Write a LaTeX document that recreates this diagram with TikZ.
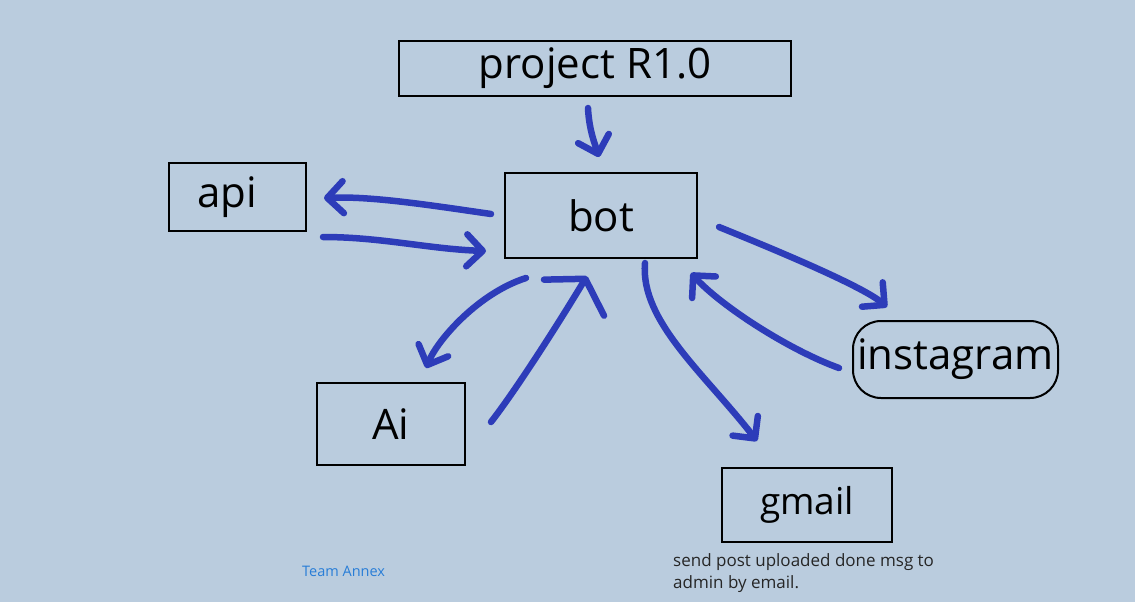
\documentclass[tikz,border=0pt]{standalone}
\usepackage{fontspec}
\setmainfont{Open Sans}
\usetikzlibrary{arrows.meta}
\definecolor{bgblue}{RGB}{186,204,222}
\definecolor{penblue}{RGB}{45,60,185}
\definecolor{teamblue}{RGB}{40,125,215}

\begin{document}
\begin{tikzpicture}[x=1pt, y=-1pt,
  box/.style={draw=black, line width=2pt, inner sep=0pt, font=\fontsize{42}{50}\selectfont},
  pen/.style={penblue, line width=6.5pt, line cap=round, line join=round,
    -{Straight Barb[round, length=16pt, width=32pt]}},
  note/.style={inner sep=0pt, align=left}]
  \fill[bgblue] (0,0) rectangle (1135,602);
  \useasboundingbox (0,0) rectangle (1135,602);

  % boxes
  \node[box, minimum width=392pt, minimum height=55pt] (proj) at (595,68.5) {project R1.0};
  \node[box, minimum width=192pt, minimum height=85pt] (bot) at (601,215.5) {bot};
  \node[box, minimum width=137pt, minimum height=68pt] (api) at (237.5,197) {\hspace*{-20pt}api};
  \node[box, minimum width=148pt, minimum height=82pt] (Ai) at (391,424) {Ai};
  \node[box, minimum width=170pt, minimum height=74pt, font=\fontsize{37}{44}\selectfont] (gmail) at (807,505) {gmail};
  \node[box, rounded corners=28pt, minimum width=205pt, minimum height=77pt] (insta) at (955.5,359.5) {instagram};

  % notes
  \node[note, anchor=base west, font=\fontsize{17}{22}\selectfont, text=black!85] (msg) at (673,588)
    {send post uploaded done msg to\\admin by email.};
  \node[note, anchor=base west, font=\fontsize{14.5}{17}\selectfont, text=teamblue] (team) at (302,576) {Team Annex};

  % pen strokes
  \draw[pen] ([shift={(-7,11)}]proj.south) .. controls +(1,23) and +(-3,-10) .. ([shift={(-2,-15)}]bot.north);
  \draw[pen] ([shift={(-13,-1.5)}]bot.west) .. controls +(-62,-9) and +(47,-2) .. ([shift={(17,1)}]api.east);
  \draw[pen] ([shift={(16,5)}]api.south east) .. controls +(58,0) and +(-57,-2) .. ([shift={(-18,-8)}]bot.south west);
  \draw[pen] ([shift={(22,19)}]bot.south west) .. controls +(-47,15) and +(12,-29) .. ([shift={(35,-14)}]Ai.north);
  \draw[pen, -{Straight Barb[round, length=22pt, width=70pt]}] ([shift={(25,-2)}]Ai.east) .. controls +(25,-32) and +(-27,45) .. ([shift={(-14,17)}]bot.south);
  \draw[pen] ([shift={(44,4)}]bot.south) .. controls +(-5,58) and +(-52,-67) .. ([shift={(-50,-26)}]gmail.north);
  \draw[pen] ([shift={(21,11.5)}]bot.east) .. controls +(32,13) and +(-27,-23) .. ([shift={(-68.5,-13)}]insta.north);
  \draw[pen] ([shift={(-13,8.5)}]insta.west) .. controls +(-50,-18) and +(30,33) .. ([shift={(-7,14)}]bot.south east);
\end{tikzpicture}
\end{document}
